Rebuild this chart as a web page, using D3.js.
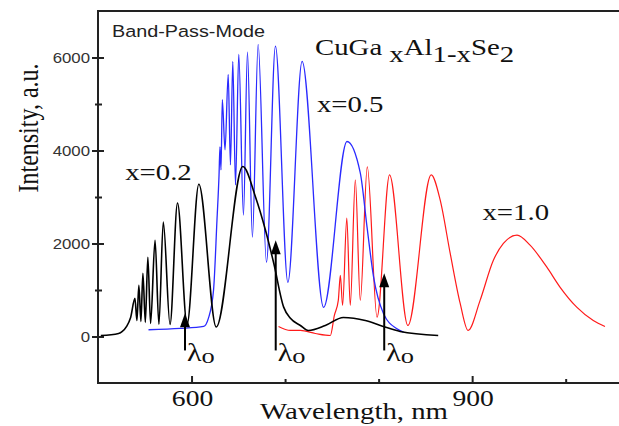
<!DOCTYPE html>
<html>
<head>
<meta charset="utf-8">
<script src="https://cdn.jsdelivr.net/npm/d3@7"></script>
<style>
  body { margin: 0; background: #fff; }
  svg { display: block; }
</style>
</head>
<body>
<svg id="chart" width="619" height="426"></svg>
<script>
// values
var blackWl = [503, 522, 526, 530.6, 534.9, 539.5, 541.6, 543.7, 545.9, 548, 550.6, 553.3, 556.2, 561, 565.1, 569.8, 577, 585, 595.2, 607.8, 626.4, 654.8, 668.3, 679, 687.9, 698.5, 705.7, 716.4, 724.9, 743, 762.3, 785.8, 805, 823, 863.7];
var blackI  = [20, 65, 108, 216, 410, 820, 345, 1100, 324, 1360, 302, 1705, 280, 2070, 260, 2460, 260, 2870, 260, 3275, 205, 3655, 3007, 2290, 1575, 632, 390, 237, 130, 237, 410, 345, 216, 108, 22];

var blueWl = [554, 588, 613, 618, 623.5, 627.2, 629.4, 630.4, 631.5, 632.9, 635.8, 639.2, 641.6, 644.1, 647, 650.5, 655.5, 659.8, 665.1, 671.2, 680.1, 689.7, 703, 718.2, 741.2, 766.2, 780.4, 787.6, 794.6, 805.3, 819.6, 826.6];
var blueI  = [145, 173, 216, 389, 993, 2504, 3475, 4080, 3583, 5094, 4015, 5634, 3691, 5915, 3259, 6065, 2612, 6115, 2137, 6281, 1597, 6245, 1166, 5915, 626, 4194, 3518, 2359, 1280, 490, 166, 93];

var redWl = [693, 705.7, 716.4, 732.4, 748.4, 752.7, 756.9, 759.1, 761.5, 766, 769.7, 775.1, 780.4, 787.9, 798.3, 811.7, 831.3, 856.2, 865.8, 876.5, 887.2, 895.7, 908.5, 922.7, 933.4, 948, 961.9, 979.7, 993.9, 1011.8, 1029.5, 1042];
var redI  = [216, 130, 130, 65, 22, 453, 777, 1317, 669, 2547, 669, 3367, 777, 3648, 417, 3475, 237, 3475, 2936, 1792, 712, 130, 777, 1640, 2001, 2180, 1964, 1496, 1064, 632, 345, 216];

var arrowWl  = [593, 690, 806];
var arrowTop = [500, 2070, 1360];
var arrowBottom = -300;

var xMajor = [600, 900];
var xMinor = [700, 800, 1000];
var yMajor = [0, 2000, 4000, 6000];
var yMinor = [1000, 3000, 5000];

var seriesLabels = [
    {text: "x=0.2", wl: 529, val: 3360},
    {text: "x=0.5", wl: 734, val: 4830},
    {text: "x=1.0", wl: 911, val: 2500}
];

var W = 619, H = 426;
var m = {l: 98, t: 11, r: 0, b: 43};
var sx = 1.2; // the picture is stretched sideways, so is the text

var svg = d3.select("#chart");
var x = d3.scaleLinear().domain([500, 1057]).range([m.l, W - m.r]);
var y = d3.scaleLinear().domain([-1000, 7000]).range([H - m.b, m.t]);

var serif = "'Liberation Serif', 'Times New Roman', serif";
var sans = "'Liberation Sans', Arial, sans-serif";

function label(px, py, str, size, family, anchor){
    return svg.append("text")
        .attr("transform", "translate(" + px + "," + py + ") scale(" + sx + ",1)")
        .attr("font-family", family)
        .attr("font-size", size)
        .attr("text-anchor", anchor || "start")
        .attr("fill", "#111")
        .text(str);
}

function spectrum(wl, vals, color, width){
    var pts = wl.map(function(d, i){ return [d, vals[i]]; });
    var line = d3.line()
        .x(function(d){ return x(d[0]); })
        .y(function(d){ return y(d[1]); })
        .curve(d3.curveMonotoneX);
    svg.append("path")
        .datum(pts)
        .attr("d", line)
        .attr("fill", "none")
        .attr("stroke", color)
        .attr("stroke-width", width)
        .attr("stroke-linejoin", "round");
}

// frame (right side is cut off in the picture)
var yBase = y.range()[0], yTop = y.range()[1];
svg.append("path")
    .attr("d", "M" + W + "," + yTop + "H" + m.l + "V" + yBase + "H" + W)
    .attr("fill", "none").attr("stroke", "#222").attr("stroke-width", 2);

// x ticks
svg.append("g").attr("transform", "translate(0," + yBase + ")")
    .call(d3.axisBottom(x).tickValues(xMajor).tickSize(-7).tickSizeOuter(0).tickFormat(""));
svg.append("g").attr("transform", "translate(0," + yBase + ")")
    .call(d3.axisBottom(x).tickValues(xMinor).tickSize(-4).tickSizeOuter(0).tickFormat(""));
svg.selectAll(".domain").remove();
svg.selectAll(".tick line").attr("stroke", "#222").attr("stroke-width", 2);
xMajor.forEach(function(v){
    label(x(v) + 1, 406, v, 23, serif, "middle");
});

// y ticks, crossing the axis
var yAx = svg.append("g").attr("transform", "translate(" + m.l + ",0)")
    .call(d3.axisLeft(y).tickValues(yMajor).tickSize(6).tickSizeOuter(0).tickFormat(""));
yAx.selectAll(".tick").append("line").attr("x2", 6);
var yAx2 = svg.append("g").attr("transform", "translate(" + m.l + ",0)")
    .call(d3.axisLeft(y).tickValues(yMinor).tickSize(3).tickSizeOuter(0).tickFormat(""));
yAx2.selectAll(".tick").append("line").attr("x2", 4);
svg.selectAll(".domain").remove();
svg.selectAll(".tick line").attr("stroke", "#222").attr("stroke-width", 2);
yMajor.forEach(function(v){
    label(90, y(v) + 5, v, 14, sans, "end").attr("fill", "#333");
});

// axis titles
label(354, 419, "Wavelength, nm", 24, serif, "middle");
svg.append("text")
    .attr("transform", "translate(38,128) scale(" + sx + ",1) rotate(-90)")
    .attr("font-family", serif).attr("font-size", 24)
    .attr("text-anchor", "middle").attr("fill", "#111")
    .text("Intensity, a.u.");

// spectra
spectrum(redWl, redI, "#ff1a1a", 1.2);
spectrum(blueWl, blueI, "#2a2aff", 1.3);
spectrum(blackWl, blackI, "#000", 1.6);

// lambda_o arrows
arrowWl.forEach(function(wl, i){
    var ax = x(wl), top = y(arrowTop[i]), bot = y(arrowBottom);
    svg.append("line")
        .attr("x1", ax).attr("x2", ax).attr("y1", bot).attr("y2", top + 10)
        .attr("stroke", "#000").attr("stroke-width", 2);
    svg.append("path")
        .attr("d", "M" + ax + "," + top + "L" + (ax + 5) + "," + (top + 14) + "L" + (ax - 5) + "," + (top + 14) + "Z")
        .attr("fill", "#000");
    var t = label(ax + 2, 361, "", 25, serif, "start");
    t.append("tspan").text("λ");
    t.append("tspan").attr("font-size", 22).attr("dy", 2).text("o");
});

// texts
label(112, 37, "Band-Pass-Mode", 16.5, sans).attr("fill", "#222");

var formula = label(315, 55, "", 24, serif);
[["CuGa", 0], [" x", 7], ["Al", -7], ["1-x", 7], ["Se", -7], ["2", 7]].forEach(function(p){
    formula.append("tspan").attr("dy", p[1]).text(p[0]);
});

seriesLabels.forEach(function(d){
    label(x(d.wl), y(d.val), d.text, 24, serif);
});
</script>
</body>
</html>
